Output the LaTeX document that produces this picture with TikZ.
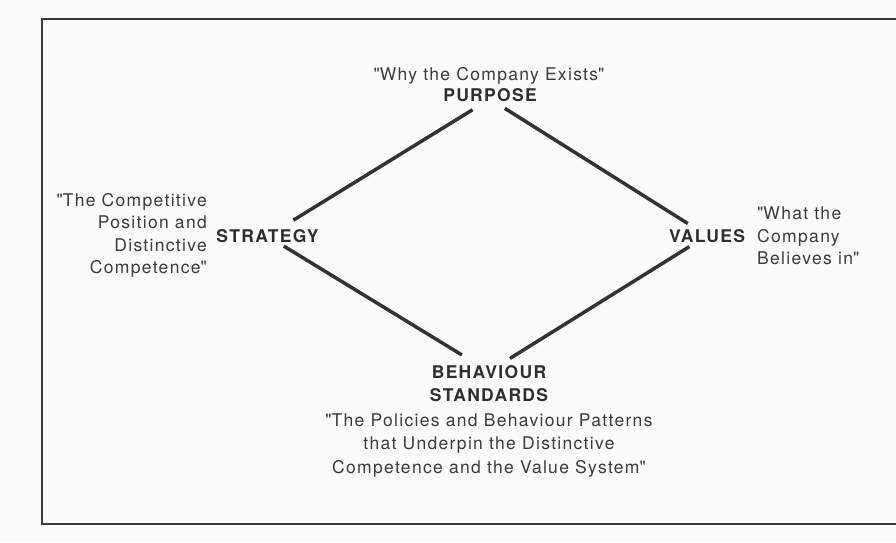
\documentclass[tikz,border=0pt]{standalone}
\usepackage{fontspec}
\setmainfont{TeX Gyre Heros}[LetterSpace=7.5]
\usetikzlibrary{calc}
\definecolor{bgcol}{HTML}{FBFBF7}
\definecolor{txtgray}{HTML}{3A3A3A}
\definecolor{headgray}{HTML}{2E2E2E}
\definecolor{linegray}{HTML}{333333}
\newcommand{\q}{\textquotedbl}
\begin{document}
\begin{tikzpicture}[x=1pt,y=-1pt,
  lbl/.style={inner sep=0pt, text=txtgray, font=\fontsize{17.5}{22.5}\selectfont},
  head/.style={inner sep=0pt, text=headgray, font=\fontsize{17.5}{23.5}\selectfont\bfseries},
  edgeline/.style={draw=linegray, line width=3.5pt},
  framebox/.style={draw=txtgray, line width=2pt}]
\useasboundingbox (0,0) rectangle (896,542);
\fill[bgcol] (0,0) rectangle (896,542);
\clip (0,0) rectangle (896,542);
\draw[framebox] (42,19) rectangle (920,524);

\node[lbl, anchor=base] (why) at (489,80) {\q Why the Company Exists\q};
\node[head, anchor=base] (purpose) at (490,101) {PURPOSE};
\node[head, anchor=base] (strategy) at (267.5,242.5) {STRATEGY};
\node[head, anchor=base] (values) at (707,242) {VALUES};
\node[head, anchor=base, align=center] (behav) at (489,401.5) {BEHAVIOUR\\STANDARDS};
\node[lbl, anchor=base, align=center, font=\fontsize{17.5}{23.5}\selectfont] (policies) at (489,473)
  {\q The Policies and Behaviour Patterns\\that Underpin the Distinctive\\Competence and the Value System\q};
\node[lbl, anchor=base east, align=right] (comp) at (207,273.5)
  {\q The Competitive\\Position and\\Distinctive\\Competence\q};
\node[lbl, anchor=base west, align=left] (believe) at (757,264.5)
  {\q What the\\Company\\Believes in\q};

\coordinate (pv) at ($(purpose.base)+(0,-2)$);
\coordinate (bv) at ($(behav.base)+(0,-30)$);
\draw[edgeline, shorten <=20.5pt, shorten >=30.4pt] (pv) -- (strategy.center);
\draw[edgeline, shorten <=17.5pt, shorten >=22.7pt] (pv) -- (values.center);
\draw[edgeline, shorten <=19.2pt, shorten >=31.8pt] (strategy.center) -- (bv);
\draw[edgeline, shorten <=20.8pt, shorten >=24.7pt] (values.center) -- (bv);
\end{tikzpicture}
\end{document}
